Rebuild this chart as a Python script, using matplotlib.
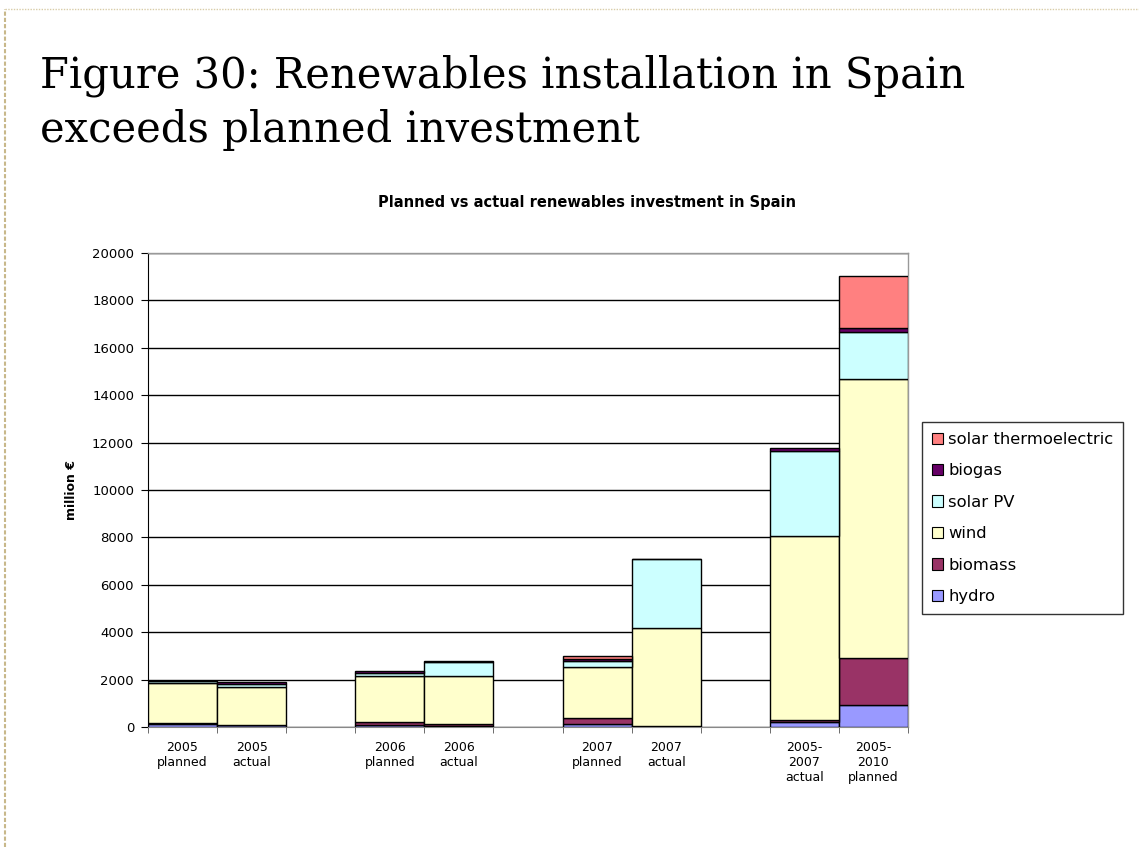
import numpy as np
import matplotlib.pyplot as plt
from matplotlib.lines import Line2D

# bar slots, with blank slots between the year groups
labels = ['2005\nplanned', '2005\nactual', '', '2006\nplanned', '2006\nactual', '',
          '2007\nplanned', '2007\nactual', '', '2005-\n2007\nactual', '2005-\n2010\nplanned']

# million EUR per technology, one value per slot (blank slots are 0)
hydro = [130, 70, 0, 100, 60, 0, 130, 20, 0, 230, 930]
biomass = [30, 10, 0, 120, 80, 0, 260, 20, 0, 50, 1970]
wind = [1700, 1620, 0, 1920, 2000, 0, 2130, 4130, 0, 7780, 11780]
solar_pv = [60, 130, 0, 150, 620, 0, 250, 2900, 0, 3600, 2000]
biogas = [40, 50, 0, 60, 40, 0, 80, 20, 0, 120, 170]
solar_thermo = [0, 0, 0, 0, 0, 0, 140, 0, 0, 0, 2190]

series = [('hydro', hydro, '#9999FF'),
          ('biomass', biomass, '#993366'),
          ('wind', wind, '#FFFFCC'),
          ('solar PV', solar_pv, '#CCFFFF'),
          ('biogas', biogas, '#660066'),
          ('solar thermoelectric', solar_thermo, '#FF8080')]

SANS = 'DejaVu Sans'

fig = plt.figure(figsize=(11.39, 8.47), dpi=100)
ax = fig.add_axes([148 / 1139, 1 - 727 / 847, 760 / 1139, 474 / 847])

x = np.arange(len(labels))
bottom = np.zeros(len(labels))
handles = []
for name, vals, col in series:
    vals = np.array(vals, dtype=float)
    mask = vals > 0
    ax.bar(x[mask], vals[mask], width=1.0, bottom=bottom[mask], color=col,
           edgecolor='black', linewidth=1.0, zorder=3)
    bottom += vals
    handles.append(plt.Rectangle((0, 0), 1, 1, facecolor=col, edgecolor='black', linewidth=0.8, label=name))

ax.set_xlim(-0.5, len(labels) - 0.5)
ax.set_ylim(0, 20000)
ax.set_yticks(range(0, 20001, 2000))
ax.yaxis.grid(True, color='black', linewidth=1.0, zorder=0)
ax.set_xticks(x)
ax.set_xticklabels(labels, fontsize=9, family=SANS, linespacing=1.2)
ax.set_xticks(np.arange(-0.5, len(labels), 1.0), minor=True)
ax.tick_params(axis='x', which='major', length=0, pad=10)
ax.tick_params(axis='x', which='minor', length=4, color='#555555')
ax.tick_params(axis='y', length=5, labelsize=9.5, color='black', pad=5)
for t in ax.get_yticklabels():
    t.set_family(SANS)

for side in ['top', 'right']:
    ax.spines[side].set_color('#999999')
    ax.spines[side].set_linewidth(1.0)
ax.spines['left'].set_color('black')
ax.spines['bottom'].set_color('#888888')

ax.set_ylabel('million €', fontsize=9, fontweight='bold', family=SANS, labelpad=10)
fig.text(587 / 1139, 1 - 203 / 847, 'Planned vs actual renewables investment in Spain',
         ha='center', va='center', fontsize=10.5, fontweight='bold', family=SANS)

leg = fig.legend(handles=handles[::-1], loc='center left',
                 bbox_to_anchor=(922 / 1139, 1 - 518 / 847), borderaxespad=0,
                 prop={'family': SANS, 'size': 11.8},
                 frameon=True, fancybox=False, edgecolor='black',
                 handlelength=0.7, handleheight=0.7, handletextpad=0.3,
                 labelspacing=1.0, borderpad=0.6)
leg.get_frame().set_linewidth(1.0)

fig.text(40 / 1139, 1 - 76 / 847, 'Figure 30: Renewables installation in Spain',
         ha='left', va='center', fontsize=30, family='DejaVu Serif')
fig.text(40 / 1139, 1 - 130 / 847, 'exceeds planned investment',
         ha='left', va='center', fontsize=30, family='DejaVu Serif')

# dotted page border
fig.add_artist(Line2D([5 / 1139, 5 / 1139], [0, 1 - 9 / 847], transform=fig.transFigure,
                      color='#c8b88a', linewidth=1.5, linestyle=(0, (2, 1))))
fig.add_artist(Line2D([5 / 1139, 1], [1 - 9 / 847, 1 - 9 / 847], transform=fig.transFigure,
                      color='#d8cca8', linewidth=1.0, linestyle=(0, (1, 1))))

fig.savefig('out.png', dpi=100)
